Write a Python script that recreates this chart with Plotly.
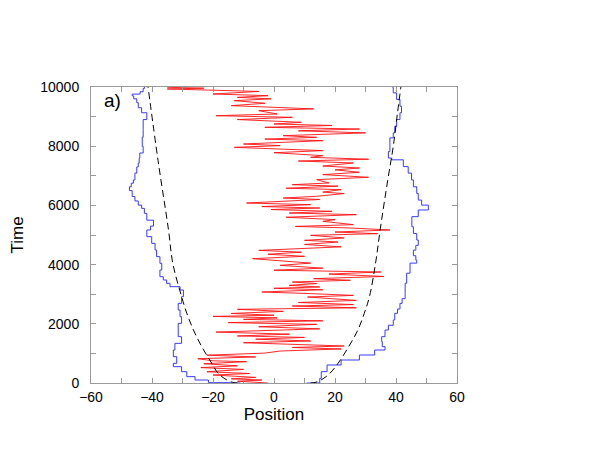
import plotly.graph_objects as go

# red walker: (time, position) turning points
red_t = [0, 60, 100, 140, 190, 270, 320, 380, 460, 520, 580, 650, 720, 750,
         820, 880, 940, 1010, 1080, 1150, 1200, 1250, 1360, 1420, 1480, 1540, 1590,
         1650, 1720, 1830, 1900, 1980, 2040, 2100, 2150, 2200, 2250, 2290, 2350, 2420,
         2490, 2540, 2600, 2650, 2720, 2790, 2905, 2960, 3020, 3074, 3150, 3200, 3243,
         3300, 3360, 3412, 3470, 3525, 3600, 3680, 3750, 3810, 3880, 3975, 4050, 4145,
         4200, 4280, 4350, 4420, 4480, 4600, 4680, 4764, 4820, 4900, 4990, 5045, 5100,
         5170, 5236, 5290, 5349, 5462, 5520, 5600, 5687, 5743, 5800, 5860, 5912, 5960,
         6025, 6080, 6138, 6200, 6250, 6307, 6400, 6450, 6532, 6580, 6650, 6700, 6757,
         6870, 6950, 7040, 7120, 7200, 7264, 7330, 7433, 7500, 7560, 7624, 7680, 7780,
         7850, 7905, 7961, 8020, 8074, 8187, 8240, 8300, 8356, 8450, 8520, 8581, 8638,
         8700, 8750, 8807, 8900, 8976, 9030, 9088, 9200, 9260, 9313, 9370, 9450, 9539,
         9600, 9650, 9707, 9764, 9850, 9933, 9960, 9990]
red_x = [-2, -12, -4, -14, -6, -20, -8, -22, -10, -24, -12, -23, -9, -20,
         -25, -6, -22, -3, 2, 22, 6, 23, -10, 12, -6, 10, -12,
         5, -19, 15, -5, 14, -15, 16, -10, 1, -20, 0, -14, 3,
         -12, 27, 6, 26, 8, 27, 11, 26, 12, -4, 16, 0, 15,
         5, 14, 6, 25, 13, 36, 18, 35, 0, 16, 2, 12, 1,
         -7, 10, -2, 9, -5, 22, 10, 21, 10, 23, 12, 34, 20,
         38, 25, 7, 26, 16, 20, 4, 27, 5, 19, -1, 15, -4,
         12, -9, 5, 15, 3, 14, 23, 16, 22, 4, 21, 6, 18,
         14, 31, 16, 28, 20, 28, 16, 26, 8, 31, 12, 16, 0,
         16, 2, -13, 2, -10, 16, -3, 14, 3, 30, 8, 28, -3,
         19, 0, 9, -12, 6, -19, 1, -5, 13, -3, -14, -3, -13,
         -1, -12, -2, -20, -5, -35, -23, -35]

# blue boundaries (stepwise)
left_t = [0, 11, 101, 214, 383, 552, 664, 890, 1115, 1340, 1565, 1791, 2016, 2241,
          2466, 2691, 2917, 3142, 3254, 3367, 3480, 3592, 3818, 4043, 4268, 4493, 4718,
          4944, 5169, 5300, 5500, 5730, 5900, 6010, 6150, 6300, 6500, 6630, 6750, 6860,
          7090, 7300, 7430, 7600, 7770, 7995, 8300, 8560, 8900, 9130, 9300, 9470, 9600,
          9700, 9760, 9840, 9950, 10000]
left_x = [-11, -14.4, -21.5, -25.9, -28.6, -30.3, -33, -31.9, -33, -32.5, -30.3, -31.4, -31.4, -30.3,
          -30.8, -31.4, -30.3, -29.7, -30.8, -34.1, -35.2, -36.3, -37.4, -36.8, -37.4, -38.5, -39,
          -40.1, -41.7, -40.5, -39.5, -41.7, -42.5, -43.4, -44.5, -45.6, -46.5, -47.4, -46.8, -46.1,
          -45.6, -45, -44.5, -44.2, -44, -42.9, -43.2, -42.9, -42.9, -41.7, -43.4, -44.5, -45,
          -46, -46.5, -43.9, -42.9, -42.5]
right_t = [0, 158, 383, 608, 777, 946, 1115, 1227, 1400, 1565, 1790, 1950, 2130, 2355,
           2500, 2690, 2850, 3030, 3370, 3710, 4050, 4150, 4300, 4490, 4650, 4830, 5050,
           5170, 5280, 5620, 5845, 6010, 6180, 6405, 6630, 6860, 7090, 7310, 7540, 7600,
           7820, 7995, 8280, 8450, 8670, 8900, 9130, 9350, 9580, 9800, 9970, 10000]
right_x = [10.7, 15, 15.5, 17.4, 22, 28, 33, 36.4, 35.5, 35.3, 36.4, 37.5, 39.1, 39.6,
           40.5, 41.3, 42, 43, 43, 43.5, 44.6, 46.8, 46.5, 45.7, 46.5, 47.3, 46.8,
           45.7, 45.7, 45.2, 47.3, 50.6, 48.4, 47.3, 46.8, 45.7, 45.1, 44, 42.4, 38.6,
           37.5, 38, 38, 39.1, 39.6, 40.2, 41.3, 41.8, 41.3, 40.2, 39.1, 39]

# dashed curves
dl_t = [0, 20, 100, 325, 665, 1230, 1790, 2360, 2920, 4050, 5180, 7430, 10000]
dl_x = [-12, -13.5, -15.4, -18.3, -20.4, -23.7, -26.4, -28.6, -30.3, -33.2, -34.6, -37.9, -41.3]
dr_t = [0, 20, 100, 325, 665, 1230, 1790, 2355, 2920, 4050, 5170, 6860, 7995, 9130, 10000]
dr_x = [12, 13.5, 15.4, 18.3, 21, 24.5, 27.5, 29.6, 31.3, 33.3, 34.8, 37.3, 39.1, 40.5, 41.6]

xticks = [-60, -40, -20, 0, 20, 40, 60]
yticks = [0, 2000, 4000, 6000, 8000, 10000]
yticklabels = ["0", "2000", "4000", "6000", "8000", "10000"]

FONT = "Liberation Sans, Arial, sans-serif"

fig = go.Figure()
fig.add_trace(go.Scatter(x=red_x, y=red_t, mode="lines",
                         line=dict(color="#ff1010", width=0.9)))
fig.add_trace(go.Scatter(x=left_x, y=left_t, mode="lines",
                         line=dict(color="#3a3aff", width=1, shape="hv")))
fig.add_trace(go.Scatter(x=right_x, y=right_t, mode="lines",
                         line=dict(color="#3a3aff", width=1, shape="hv")))
fig.add_trace(go.Scatter(x=dl_x, y=dl_t, mode="lines",
                         line=dict(color="black", width=1, dash="7px,4px", shape="spline")))
fig.add_trace(go.Scatter(x=dr_x, y=dr_t, mode="lines",
                         line=dict(color="black", width=1, dash="7px,4px", shape="spline")))

axis_style = dict(
    showgrid=False, zeroline=False, showline=True, linecolor="#999999", linewidth=1,
    mirror="ticks", ticks="inside", ticklen=5, tickcolor="#999999",
    tickfont=dict(family=FONT, size=14, color="black"),
)
fig.update_xaxes(range=[-60, 60], tickvals=xticks,
                 minor=dict(dtick=10, ticks="inside", ticklen=5, tickcolor="#999999"),
                 title=dict(text="Position", font=dict(family=FONT, size=17, color="black"),
                            standoff=0),
                 ticklabelstandoff=1, **axis_style)
fig.update_yaxes(range=[0, 10000], tickvals=yticks, ticktext=yticklabels,
                 minor=dict(dtick=1000, ticks="inside", ticklen=5, tickcolor="#999999"),
                 title=dict(text="Time", font=dict(family=FONT, size=17, color="black"),
                            standoff=24),
                 ticklabelstandoff=8, **axis_style)

fig.add_annotation(text="a)", x=0.03, y=0.955, xref="paper", yref="paper",
                   xanchor="left", yanchor="middle", showarrow=False,
                   font=dict(family=FONT, size=19, color="black"))

# the page body adds an 8px offset, so the margins are shifted by that much
fig.update_layout(
    width=598, height=462, showlegend=False,
    margin=dict(l=83, r=149, t=79, b=87, autoexpand=False),
    paper_bgcolor="white", plot_bgcolor="white",
)

fig.write_html("out.html")
